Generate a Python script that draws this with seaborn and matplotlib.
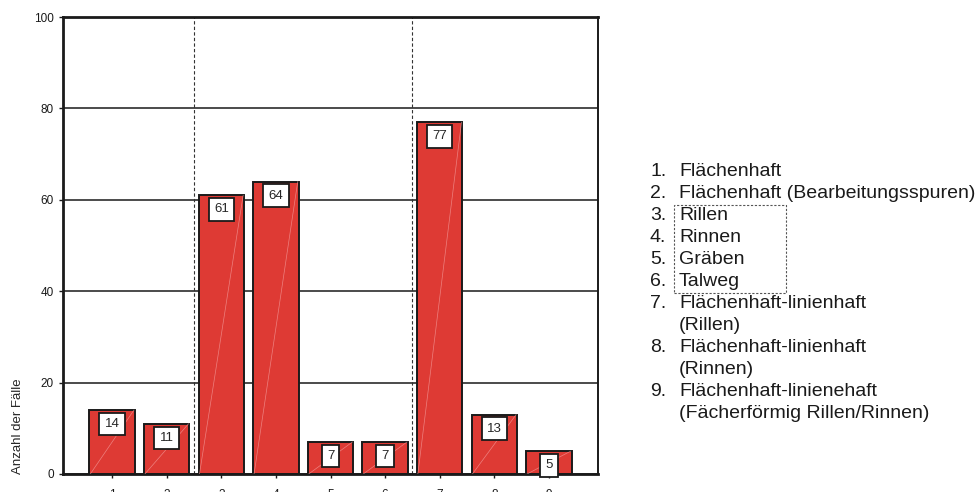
import matplotlib
matplotlib.use("Agg")
import matplotlib.pyplot as plt
import seaborn as sns
import pandas as pd
from matplotlib.patches import Rectangle

# ── data ──
categories = ["1", "2", "3", "4", "5", "6", "7", "8", "9"]
counts = [14, 11, 61, 64, 7, 7, 77, 13, 5]
y_ticks = [0, 20, 40, 60, 80, 100]
group_breaks = [1.5, 5.5]   # dashed separators between category groups
legend_lines = [
    ("1.", "Flächenhaft"),
    ("2.", "Flächenhaft (Bearbeitungsspuren)"),
    ("3.", "Rillen"),
    ("4.", "Rinnen"),
    ("5.", "Gräben"),
    ("6.", "Talweg"),
    ("7.", "Flächenhaft-linienhaft"),
    ("", "(Rillen)"),
    ("8.", "Flächenhaft-linienhaft"),
    ("", "(Rinnen)"),
    ("9.", "Flächenhaft-linienehaft"),
    ("", "(Fächerförmig Rillen/Rinnen)"),
]

BAR_COLOR = "#DE3A34"
W, H = 975, 492

sns.set_style("white")
plt.rcParams["font.family"] = ["Liberation Sans", "DejaVu Sans"]

fig = plt.figure(figsize=(W / 100, H / 100), dpi=100)
ax = fig.add_axes([63 / W, 1 - 474 / H, (598 - 63) / W, (474 - 17) / H])

df = pd.DataFrame({"Kategorie": categories, "Anzahl": counts})
sns.barplot(data=df, x="Kategorie", y="Anzahl", order=categories,
            color=BAR_COLOR, saturation=1, width=0.83,
            edgecolor="#1a1a1a", linewidth=1.4, ax=ax)

# faint diagonal streak inside each bar + value boxes
for i, v in enumerate(counts):
    ax.plot([i - 0.4, i + 0.4], [0, v], color="#F4A0A0", lw=0.5, alpha=0.7,
            zorder=3)
    ax.text(i, v - 3.1, str(v), ha="center", va="center", fontsize=9.5,
            zorder=5,
            bbox=dict(boxstyle="square,pad=0.4", fc="white", ec="#1a1a1a",
                      lw=1.3))

ax.set_xlim(-0.9, 8.9)
ax.set_ylim(0, 100)
ax.set_yticks(y_ticks)
ax.yaxis.grid(True, color="#1a1a1a", lw=1.1)
ax.set_axisbelow(True)
for xb in group_breaks:
    ax.axvline(xb, color="#333333", lw=0.8, ls=(0, (3, 2)), zorder=1)

for s in ax.spines.values():
    s.set_color("#1a1a1a")
    s.set_linewidth(1.4)
ax.spines["left"].set_linewidth(2)
ax.spines["bottom"].set_linewidth(2)
ax.spines["top"].set_linewidth(2)

ax.tick_params(axis="both", direction="out", length=3, width=1, labelsize=8.5,
               colors="#1a1a1a", left=True, bottom=True)
ax.tick_params(axis="x", pad=8)
ax.set_xlabel("")
ax.set_ylabel("Anzahl der Fälle", fontsize=9.5, loc="bottom")
ax.yaxis.set_label_coords((24 - 63) / (598 - 63), 0)

# category description list
x_num, x_txt = 650, 679
y_first, step = 172, 22
for k, (num, txt) in enumerate(legend_lines):
    y = 1 - (y_first + k * step) / H
    if num:
        fig.text(x_num / W, y, num, fontsize=14, va="center", ha="left",
                 color="#1a1a1a")
    fig.text(x_txt / W, y, txt, fontsize=14, va="center", ha="left",
             color="#1a1a1a")

# dashed frame around items 3-6
fig.patches.append(Rectangle((674 / W, 1 - 293 / H), (786 - 674) / W,
                             (293 - 205) / H, transform=fig.transFigure,
                             fill=False, ec="#555555", lw=0.8,
                             ls=(0, (2, 1.5))))

fig.savefig("out.png", dpi=100)
